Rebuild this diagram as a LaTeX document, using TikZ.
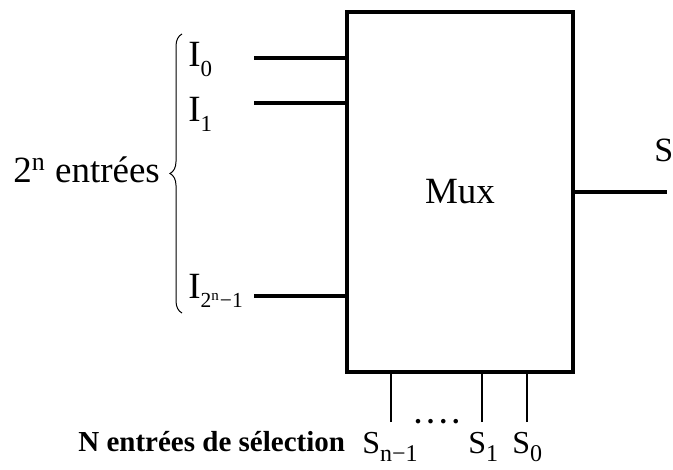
\documentclass[tikz,border=0pt]{standalone}
\usepackage{fontspec}
\setmainfont{Liberation Serif}
\usetikzlibrary{math,decorations.pathreplacing}

% lowered index, scaled from the current font size
\makeatletter
\newcommand{\idx}[2][0.62]{\raisebox{-0.27em}{\fontsize{\strip@pt\dimexpr#1\dimexpr\f@size pt\relax\relax}{1}\selectfont #2}}
\makeatother

\tikzset{
  wire/.style={line width=2.3pt},
  selwire/.style={line width=0.65pt},
  lbl/.style={inner sep=0pt, anchor=base west, font=\fontsize{18.5}{20}\selectfont},
  sellbl/.style={lbl, font=\fontsize{16}{17}\selectfont}
}

\begin{document}
\begin{tikzpicture}[x=0.5pt,y=-0.5pt]
  \tikzmath{%
    \lx = 347; \rx = 573; \ty = 12; \by = 372;
    \cx = (\lx + \rx)/2; \cy = (\ty + \by)/2;
    \w = \rx - \lx; \h = \by - \ty;
  }
  \useasboundingbox (0,0) rectangle (673,470);

  % the multiplexer block
  \node[draw, line width=2.4pt, inner sep=0pt,
        minimum width=\w*0.5pt, minimum height=\h*0.5pt,
        font=\fontsize{18.5}{20}\selectfont] (mux) at (\cx,\cy) {Mux};

  % data inputs
  \coordinate (i0) at (254,58);
  \coordinate (i1) at (254,103);
  \coordinate (ik) at (254,296);
  \foreach \p in {i0,i1,ik}
    \draw[wire] (\p) -- (\p -| mux.west);

  \node[lbl] (l0) at (188,67) {I\idx{0}};
  \node[lbl] (l1) at (188,122) {I\idx{1}};
  \node[lbl] (lk) at (188,298) {I\idx[0.58]{2\textsuperscript{n}−1}};

  \draw[decorate, decoration={brace, amplitude=6pt}, line width=0.5pt]
    (182,313) -- (182,34);
  \node[lbl] (nin) at (13,183) {2\textsuperscript{n} entrées};

  % output
  \coordinate (out) at (667,192);
  \draw[wire] (mux.east) -- (out);
  \node[lbl, font=\fontsize{17}{20}\selectfont] (s) at (654,162) {S};

  % select lines
  \foreach \n/\x in {sn/391, s1/482, s0/527} {
    \coordinate (\n) at (\x,422);
    \draw[selwire] (\n) -- (\n |- mux.south);
  }
  \node[lbl, anchor=base] (dots) at (437,423)
    {\bfseries\fontsize{14}{16}\selectfont .\hspace{2.8pt}.\hspace{2.8pt}.\hspace{2.8pt}.};

  \node[sellbl] (tn) at (362,453) {S\idx[0.75]{n−1}};
  \node[sellbl] (t1) at (468,453) {S\idx[0.75]{1}};
  \node[sellbl] (t0) at (512,453) {S\idx[0.75]{0}};
  \node[lbl, font=\bfseries\fontsize{14.5}{16}\selectfont] (seltxt) at (78,451)
    {N entrées de sélection};
\end{tikzpicture}
\end{document}
